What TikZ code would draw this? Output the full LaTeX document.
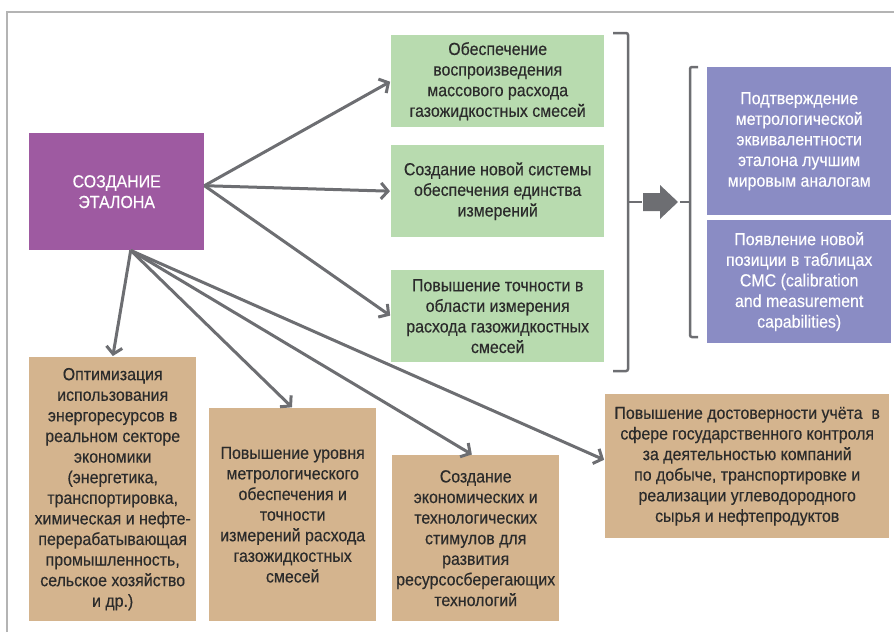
\documentclass[tikz,border=0pt]{standalone}
\usepackage{fontspec}
\setmainfont{Liberation Sans}[FakeStretch=0.91,FakeBold=0.3]
\usetikzlibrary{arrows.meta,positioning}
\definecolor{etalonviolet}{HTML}{9E5AA1}
\definecolor{zelen}{HTML}{B8DBAF}
\definecolor{siren}{HTML}{8A8CC4}
\definecolor{bezh}{HTML}{D4B48E}
\definecolor{seryj}{HTML}{6D6E72}
\definecolor{ramka}{HTML}{B4B4B4}
\definecolor{tekst}{HTML}{2B2B2B}
\tikzset{
    %Define standard arrow tip
    >={Straight Barb[length=7pt,width=16pt]},
    %Define style for boxes
    blok/.style={
           rectangle,
           inner sep=0pt,
           anchor=north west,
           align=center,
           text=tekst,
           font=\fontsize{17.5}{20.6}\selectfont},
    glavnyj/.style={blok, fill=etalonviolet, text=white},
    cel/.style={blok, fill=zelen},
    itog/.style={blok, fill=siren, text=white},
    effekt/.style={blok, fill=bezh},
    % Define arrow style
    pil/.style={
           ->,
           seryj,
           line width=3pt,
           shorten >=1pt},
    skobka/.style={
           seryj,
           line width=2.5pt,
           rounded corners=2pt}
}
\begin{document}
\begin{tikzpicture}[x=1pt,y=-1pt]
\useasboundingbox (0,0) rectangle (894,632);
\draw[ramka, line width=1.5pt] (7,632) -- (7,12) -- (894,12);

\node[glavnyj, minimum width=175pt, minimum height=117pt] (etalon) at (29,133) {СОЗДАНИЕ\\ЭТАЛОНА};

\node[cel, minimum width=213pt, minimum height=92pt] (cel1) at (391,35)
  {Обеспечение\\воспроизведения\\массового расхода\\газожидкостных смесей};
\node[cel, minimum width=213pt, minimum height=92pt] (cel2) at (391,145)
  {Создание новой системы\\обеспечения единства\\измерений};
\node[cel, minimum width=213pt, minimum height=92pt] (cel3) at (391,270)
  {Повышение точности в\\области измерения\\расхода газожидкостных\\смесей};

\node[itog, minimum width=184pt, minimum height=148pt] (itog1) at (707,67)
  {Подтверждение\\метрологической\\эквивалентности\\эталона лучшим\\мировым аналогам};
\node[itog, minimum width=184pt, minimum height=123pt] (itog2) at (707,220)
  {Появление новой\\позиции в таблицах\\CMC (calibration\\and measurement\\capabilities)};

\node[effekt, minimum width=167pt, minimum height=264pt] (eff1) at (29,357)
  {Оптимизация\\использования\\энергоресурсов в\\реальном секторе\\экономики\\(энергетика,\\транспортировка,\\химическая и нефте-\\перерабатывающая\\промышленность,\\сельское хозяйство\\и др.)};
\node[effekt, minimum width=167pt, minimum height=213pt] (eff2) at (209,408)
  {Повышение уровня\\метрологического\\обеспечения и\\точности\\измерений расхода\\газожидкостных\\смесей};
\node[effekt, minimum width=167pt, minimum height=166pt] (eff3) at (392,455)
  {Создание\\экономических и\\технологических\\стимулов для\\развития\\ресурсосберегающих\\технологий};
\node[effekt, minimum width=284pt, minimum height=144pt] (eff4) at (605,394)
  {Повышение достоверности учёта~ в\\сфере государственного контроля\\за деятельностью компаний\\по добыче, транспортировке и\\реализации углеводородного\\сырья и нефтепродуктов};

% hubs of the arrows
\coordinate (vpravo) at ([yshift=6pt]etalon.east);
\coordinate (vniz) at ([xshift=14pt]etalon.south);

\draw[pil] (vpravo) -- (cel1.west);
\draw[pil] (vpravo) -- (cel2.west);
\draw[pil] (vpravo) -- (cel3.west);
\draw[pil] (vniz) -- (eff1.north);
\draw[pil] (vniz) -- (eff2.north);
\draw[pil] (vniz) -- ([xshift=-3pt]eff3.north);
\draw[pil] (vniz) -- ([yshift=6pt]eff4.west);

% brackets and big arrow
\draw[skobka] (613,33) -- (628,33) -- (628,371) -- (613,371);
\draw[skobka] (628,202) -- (642,202);
\draw[skobka] (698,67) -- (690,67) -- (690,337) -- (698,337);
\draw[skobka] (680,202) -- (690,202);
\fill[seryj] (643,193) -- (660,193) -- (660,185) -- (678,202) -- (660,219) -- (660,211) -- (643,211) -- cycle;
\end{tikzpicture}
\end{document}
